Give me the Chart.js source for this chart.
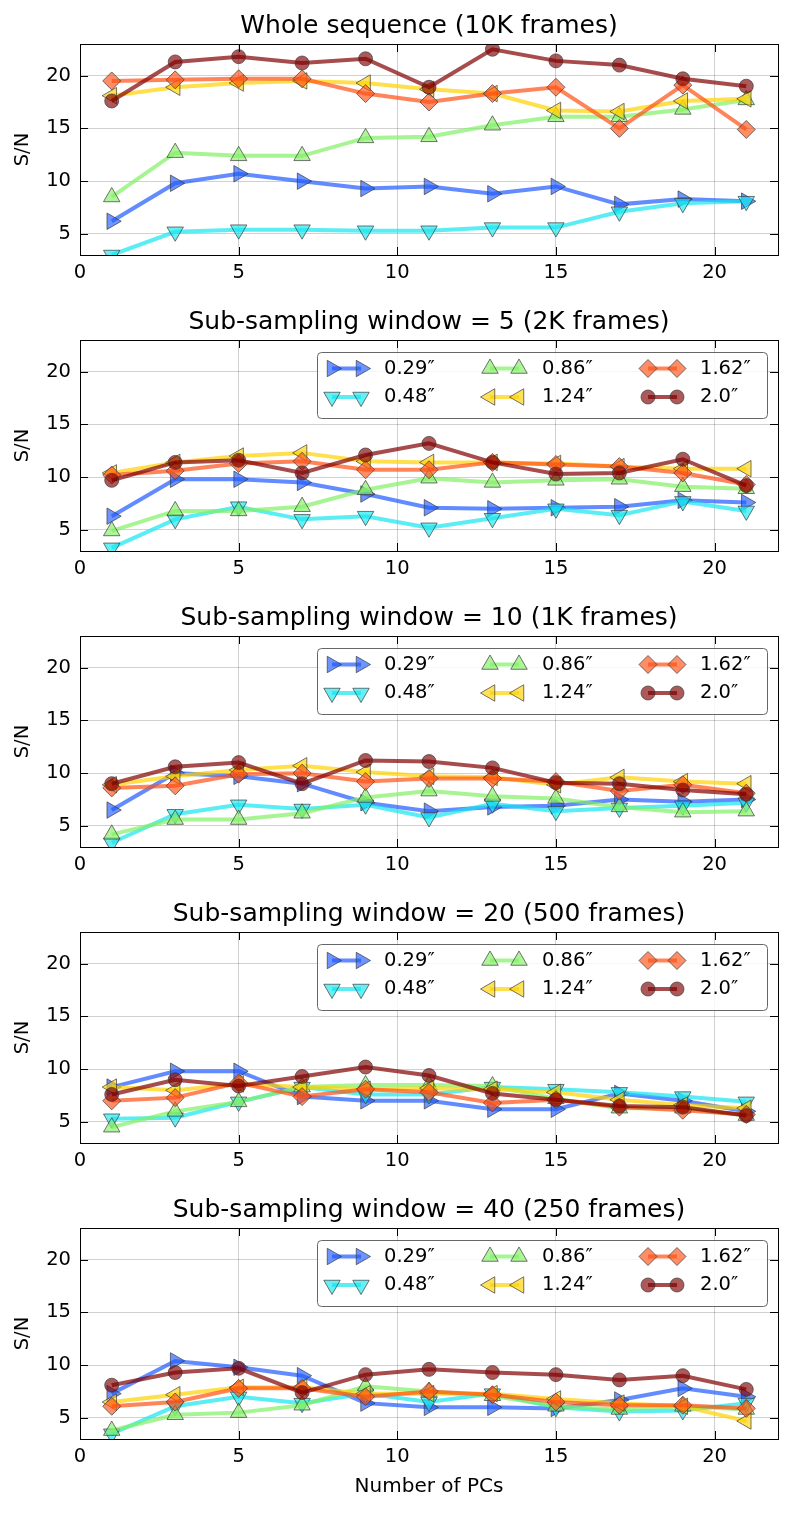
<!DOCTYPE html>
<html>
<head>
<meta charset="utf-8">
<script src="https://cdn.jsdelivr.net/npm/chart.js@4.4.1/dist/chart.umd.min.js"></script>
<style>
  body { margin: 0; background: #fff; }
  .panel { position: absolute; left: 0; }
</style>
</head>
<body>
<div class="panel" style="top:0px"><canvas id="c0" width="793" height="296"></canvas></div>
<div class="panel" style="top:296px"><canvas id="c1" width="793" height="296"></canvas></div>
<div class="panel" style="top:592px"><canvas id="c2" width="793" height="296"></canvas></div>
<div class="panel" style="top:888px"><canvas id="c3" width="793" height="296"></canvas></div>
<div class="panel" style="top:1184px"><canvas id="c4" width="793" height="330"></canvas></div>

<script>
// number of PCs on the x axis
const pcs = [1, 3, 5, 7, 9, 11, 13, 15, 17, 19, 21];
const seeing = ['0.29″', '0.48″', '0.86″', '1.24″', '1.62″', '2.0″'];
const xTicks = [0, 5, 10, 15, 20];
const yTicks = [5, 10, 15, 20];

const titles = [
  'Whole sequence (10K frames)',
  'Sub-sampling window = 5 (2K frames)',
  'Sub-sampling window = 10 (1K frames)',
  'Sub-sampling window = 20 (500 frames)',
  'Sub-sampling window = 40 (250 frames)'
];

// S/N, one row per seeing value (0.29, 0.48, 0.86, 1.24, 1.62, 2.0)
const snWhole = [
  [6.2, 9.8, 10.7, 10.0, 9.3, 9.5, 8.8, 9.5, 7.8, 8.3, 8.1],
  [3.0, 5.2, 5.4, 5.4, 5.3, 5.3, 5.6, 5.6, 7.1, 7.9, 8.1],
  [8.5, 12.7, 12.4, 12.4, 14.1, 14.2, 15.3, 16.1, 16.1, 16.8, 17.7],
  [18.1, 18.9, 19.3, 19.5, 19.3, 18.7, 18.3, 16.7, 16.6, 17.6, 17.8],
  [19.5, 19.6, 19.7, 19.7, 18.3, 17.5, 18.3, 18.9, 15.0, 19.1, 14.9],
  [17.6, 21.3, 21.8, 21.2, 21.6, 18.9, 22.5, 21.4, 21.0, 19.7, 19.0]
];
const snWin5 = [
  [6.3, 9.8, 9.8, 9.5, 8.4, 7.1, 7.0, 7.1, 7.2, 7.8, 7.6],
  [3.3, 6.0, 7.2, 6.0, 6.3, 5.2, 6.1, 7.0, 6.4, 7.7, 6.8],
  [4.9, 6.8, 6.8, 7.2, 8.8, 9.9, 9.5, 9.7, 9.8, 9.1, 8.9],
  [10.4, 11.4, 12.0, 12.3, 11.5, 11.4, 11.4, 11.3, 11.0, 10.8, 10.8],
  [10.2, 10.6, 11.3, 11.5, 10.7, 10.7, 11.4, 11.2, 11.0, 10.4, 9.3],
  [9.7, 11.4, 11.6, 10.4, 12.1, 13.2, 11.4, 10.3, 10.4, 11.7, 9.2]
];
const snWin10 = [
  [6.5, 10.0, 9.7, 9.0, 7.2, 6.4, 6.8, 6.9, 7.5, 7.3, 7.5],
  [3.4, 6.1, 7.0, 6.6, 7.0, 5.8, 7.1, 6.4, 6.7, 6.9, 7.2],
  [4.2, 5.6, 5.6, 6.2, 7.7, 8.3, 7.8, 7.6, 6.8, 6.3, 6.4],
  [8.9, 9.7, 10.3, 10.7, 10.1, 9.7, 9.6, 8.9, 9.6, 9.2, 9.0],
  [8.6, 8.8, 9.9, 10.0, 9.2, 9.5, 9.5, 9.2, 8.3, 8.9, 8.1],
  [9.0, 10.6, 11.0, 9.0, 11.2, 11.1, 10.5, 9.1, 9.0, 8.4, 8.0]
];
const snWin20 = [
  [8.3, 9.8, 9.8, 7.4, 7.0, 7.0, 6.2, 6.2, 7.7, 7.0, 6.0],
  [5.3, 5.4, 6.9, 8.3, 7.6, 7.6, 8.3, 8.1, 7.8, 7.4, 6.9],
  [4.5, 6.0, 6.9, 8.3, 8.5, 8.5, 8.4, 7.2, 6.3, 6.3, 5.6],
  [8.3, 8.0, 8.6, 8.3, 8.1, 8.2, 8.1, 7.8, 7.1, 6.6, 6.3],
  [7.0, 7.3, 8.7, 7.4, 8.1, 7.8, 6.8, 7.1, 6.4, 6.1, 5.7],
  [7.6, 9.0, 8.4, 9.3, 10.2, 9.4, 7.7, 7.1, 6.5, 6.4, 5.6]
];
const snWin40 = [
  [7.3, 10.4, 9.8, 9.0, 6.4, 6.0, 6.0, 5.9, 6.7, 7.8, 7.0],
  [3.5, 6.1, 7.0, 6.4, 7.3, 6.5, 7.3, 6.0, 5.6, 5.7, 6.4],
  [3.8, 5.3, 5.5, 6.2, 8.0, 7.5, 7.1, 6.1, 5.8, 6.1, 5.8],
  [6.5, 7.2, 7.9, 7.9, 7.3, 7.3, 7.3, 6.8, 6.4, 6.1, 4.7],
  [6.1, 6.5, 7.8, 7.8, 7.0, 7.5, 7.2, 6.5, 6.2, 6.2, 5.9],
  [8.1, 9.3, 9.7, 7.4, 9.1, 9.6, 9.3, 9.1, 8.6, 9.0, 7.7]
];
const panels = [snWhole, snWin5, snWin10, snWin20, snWin40];

// style per seeing value
const colors = ['30,90,255', '20,230,240', '130,240,100', '255,210,0', '255,80,20', '128,0,0'];
const styles = [
  { pointStyle: 'triangle', rotation: 90, radius: 9.5 },
  { pointStyle: 'triangle', rotation: 180, radius: 9.5 },
  { pointStyle: 'triangle', rotation: 0, radius: 9.5 },
  { pointStyle: 'triangle', rotation: 270, radius: 9.5 },
  { pointStyle: 'rectRot', rotation: 0, radius: 9 },
  { pointStyle: 'circle', rotation: 0, radius: 7 }
];

Chart.defaults.font.family = "'DejaVu Sans', sans-serif";
Chart.defaults.color = '#000';

// box, inward ticks on all four sides
const framePlugin = {
  id: 'frame',
  afterDatasetsDraw(chart) {
    const { ctx, chartArea: a, scales } = chart;
    ctx.save();
    ctx.strokeStyle = '#000';
    ctx.lineWidth = 1;
    ctx.beginPath();
    xTicks.forEach(v => {
      const px = Math.round(scales.x.getPixelForValue(v)) + 0.5;
      ctx.moveTo(px, a.bottom); ctx.lineTo(px, a.bottom - 8);
      ctx.moveTo(px, a.top); ctx.lineTo(px, a.top + 8);
    });
    yTicks.forEach(v => {
      const py = Math.round(scales.y.getPixelForValue(v)) + 0.5;
      ctx.moveTo(a.left, py); ctx.lineTo(a.left + 8, py);
      ctx.moveTo(a.right, py); ctx.lineTo(a.right - 8, py);
    });
    ctx.stroke();
    ctx.strokeRect(Math.round(a.left) + 0.5, Math.round(a.top) + 0.5,
      Math.round(a.right - a.left), Math.round(a.bottom - a.top));
    ctx.restore();
  }
};

// matplotlib-like legend: 3 columns, line with a marker at each end
const legendPlugin = {
  id: 'mplLegend',
  afterDraw(chart, args, opts) {
    if (!opts.show) return;
    const { ctx, chartArea: a } = chart;
    const bx = a.right - 461, by = a.top + 12, bw = 450, bh = 66;
    ctx.save();
    ctx.beginPath();
    ctx.roundRect(bx + 0.5, by + 0.5, bw, bh, 4);
    ctx.fillStyle = 'rgba(255,255,255,0.8)';
    ctx.fill();
    ctx.strokeStyle = '#666';
    ctx.lineWidth = 1;
    ctx.stroke();
    seeing.forEach((lab, k) => {
      const col = Math.floor(k / 2), row = k % 2;
      const mx = bx + 15 + col * 158, my = by + 16.5 + row * 28.5;
      ctx.strokeStyle = 'rgba(' + colors[k] + ',0.7)';
      ctx.lineWidth = 4;
      ctx.beginPath();
      ctx.moveTo(mx, my); ctx.lineTo(mx + 29, my);
      ctx.stroke();
      [mx, mx + 29].forEach(px => {
        ctx.fillStyle = 'rgba(' + colors[k] + ',0.65)';
        ctx.strokeStyle = 'rgba(60,60,60,0.7)';
        ctx.lineWidth = 1;
        Chart.helpers.drawPoint(ctx, {
          pointStyle: styles[k].pointStyle, rotation: styles[k].rotation,
          radius: styles[k].radius, borderWidth: 1
        }, px, my);
      });
      ctx.fillStyle = '#000';
      ctx.font = "19.5px 'DejaVu Sans'";
      ctx.textBaseline = 'middle';
      ctx.textAlign = 'left';
      ctx.fillText(lab, bx + 67 + col * 158, my);
    });
    ctx.restore();
  }
};

panels.forEach((rows, p) => {
  const last = p === panels.length - 1;
  const datasets = rows.map((vals, i) => ({
    label: seeing[i],
    data: pcs.map((x, j) => ({ x: x, y: vals[j] })),
    borderColor: 'rgba(' + colors[i] + ',0.7)',
    backgroundColor: 'rgba(' + colors[i] + ',0.65)',
    borderWidth: 4,
    tension: 0,
    pointStyle: styles[i].pointStyle,
    pointRotation: styles[i].rotation,
    pointRadius: styles[i].radius,
    pointHoverRadius: styles[i].radius,
    pointBorderColor: 'rgba(60,60,60,0.7)',
    pointBorderWidth: 1,
    pointBackgroundColor: 'rgba(' + colors[i] + ',0.65)',
    order: -i,
    clip: 0
  }));

  new Chart(document.getElementById('c' + p), {
    type: 'line',
    data: { datasets: datasets },
    plugins: [framePlugin, legendPlugin],
    options: {
      responsive: false,
      animation: false,
      events: [],
      layout: { padding: { left: 0, right: 15, top: 0, bottom: 0 } },
      plugins: {
        legend: { display: false },
        tooltip: { enabled: false },
        mplLegend: { show: p > 0 },
        title: {
          display: true,
          text: titles[p],
          fullSize: false,
          font: { size: 25, weight: 'normal' },
          color: '#000',
          padding: { top: 11, bottom: 3 }
        }
      },
      scales: {
        x: {
          type: 'linear',
          min: 0,
          max: 22,
          afterBuildTicks: s => { s.ticks = xTicks.map(v => ({ value: v })); },
          afterFit: s => { s.height = last ? 75 : 41; },
          ticks: { font: { size: 19.5 }, color: '#000', padding: 6, maxRotation: 0 },
          grid: { color: 'rgba(0,0,0,0.18)', lineWidth: 1, drawTicks: false },
          border: { display: false },
          title: {
            display: last,
            text: 'Number of PCs',
            font: { size: 20 },
            color: '#000',
            padding: { top: 0, bottom: 15 }
          }
        },
        y: {
          type: 'linear',
          min: 3,
          max: 23,
          afterBuildTicks: s => { s.ticks = yTicks.map(v => ({ value: v })); },
          afterFit: s => { s.width = 80; },
          ticks: { font: { size: 19.5 }, color: '#000', padding: 9 },
          grid: { color: 'rgba(0,0,0,0.18)', lineWidth: 1, drawTicks: false },
          border: { display: false },
          title: {
            display: true,
            text: 'S/N',
            font: { size: 19.5 },
            color: '#000',
            padding: { top: 11, bottom: 0 }
          }
        }
      }
    }
  });
});
</script>
</body>
</html>
